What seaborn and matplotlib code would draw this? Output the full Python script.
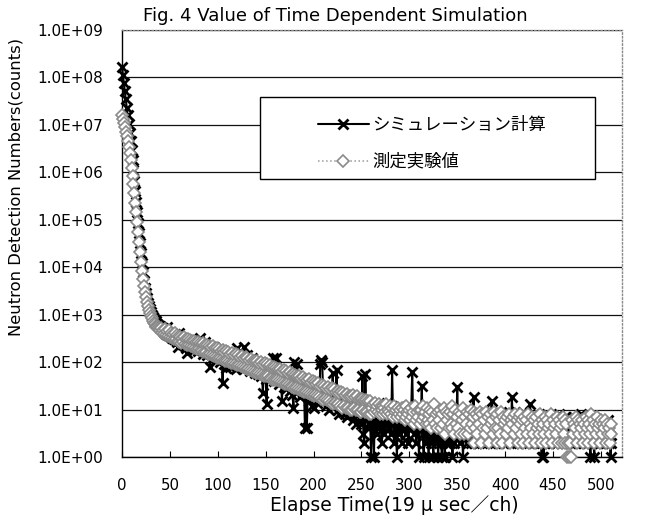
import numpy as np
import pandas as pd
import matplotlib
matplotlib.use("Agg")
import matplotlib.pyplot as plt
import seaborn as sns
from matplotlib.ticker import FuncFormatter
from matplotlib.patches import Rectangle

# Neutron counts per time channel (19 us/ch), channels 0..511
simulation = [
    1.66e8, 1.12e8, 7.6e7, 5.1e7, 3.5e7, 2.3e7, 1.6e7, 1.05e7, 6.9e6, 4.6e6,
    2.9e6, 1.8e6, 1.1e6, 6.6e5, 4.0e5, 2.4e5, 1.45e5, 8.7e4, 5.2e4, 3.2e4,
    1.95e4, 1.2e4, 7.8e3, 5.2e3, 3.7e3, 2.8e3, 2.2e3, 1.8e3, 1.5e3, 1.3e3,
    1120, 1000, 905, 830, 770, 720, 680, 650, 620, 590,
    565,
    545, 500, 530, 430, 470, 400, 540, 380, 410, 355,
    380, 320, 350, 300, 390, 290, 260, 205, 330, 410,
    280, 300, 240, 270, 230, 290, 200, 155, 240, 220,
    250, 190, 230, 260, 180, 210, 240, 200, 170, 280,
    316, 200, 180, 230, 150, 190, 260, 170, 140, 200,
    160, 78, 150, 180, 120, 210, 140, 110, 170, 130,
    150, 100, 125, 170, 36, 120, 90, 140, 75, 110,
    130, 95, 80, 120, 100, 140, 85, 110, 70, 195,
    105, 90, 150, 80, 115, 70, 205, 95, 85, 138,
    90, 75, 110, 65, 95, 120, 70, 85, 60, 100,
    80, 55, 95, 70, 50, 85, 22, 65, 75, 45,
    13, 70, 55, 80, 45, 60, 50, 120, 40, 55,
    120, 45, 60, 35, 50, 40, 15, 55, 30, 45,
    50, 28, 40, 60, 25, 35, 45, 20, 11, 100,
    30, 40, 93, 25, 35, 18, 30, 40, 22, 28,
    4, 20, 4, 30, 15, 25, 35, 12, 20, 11,
    25, 18, 30, 14, 22, 16, 93, 110, 100, 20,
    15, 25, 12, 18, 28, 10, 20, 14, 22, 58,
    16, 12, 20, 68, 10, 18, 8, 15, 12, 20,
    9, 14, 8, 18, 7, 12, 16, 8, 11, 14,
    6, 10, 14, 5, 12, 8, 16, 7, 10, 5,
    52, 3, 2, 56, 9, 6, 4, 10, 7, 1,
    5, 8, 1, 12, 6, 3, 9, 4, 11, 7,
    2, 6, 10, 3, 8, 5, 14, 4, 7, 9,
    3, 68, 6, 2, 9, 4, 1, 7, 3, 12,
    5, 2, 8, 4, 10, 3, 6, 9, 2, 7,
    4, 11, 62, 5, 3, 8, 2, 6, 9, 1,
    4, 7, 32, 3, 1, 6, 2, 9, 5, 1,
    3, 8, 2, 5, 1, 7, 4, 2, 6, 1,
    3, 9, 2, 1, 5, 4, 1, 7, 2, 3,
    6, 2, 8, 3, 1, 5, 2, 9, 4, 30,
    3, 6, 2, 8, 4, 1, 5, 3, 7, 2,
    5, 3, 9, 2, 6, 4, 18, 2, 7, 3,
    5, 8, 2, 4, 6, 3, 9, 2, 5, 4,
    7, 3, 5, 2, 8, 15, 4, 6, 2, 9,
    3, 5, 7, 2, 4, 8, 3, 6, 2, 5,
    4, 7, 3, 9, 5, 2, 18, 6, 3, 4,
    8, 2, 5, 3, 7, 4, 2, 6, 9, 3,
    5, 2, 7, 4, 3, 13, 6, 2, 5, 8,
    3, 6, 2, 4, 7, 3, 5, 1, 2, 1,
    2, 6, 3, 8, 4, 2, 5, 3, 7, 2,
    4, 6, 3, 2, 5, 8, 3, 4, 2, 6,
    3, 5, 7, 2, 4, 3, 6, 2, 5, 3,
    4, 7, 2, 5, 3, 6, 2, 4, 8, 3,
    5, 2, 6, 3, 4, 2, 7, 3, 1, 5,
    2, 4, 1, 6, 3, 2, 5, 3, 2, 4,
    3, 2, 5, 4, 2, 3, 6, 2, 4, 1, 2,
]

measured = [
    1.6e7, 1.3e7, 1.1e7, 8.9e6, 7.2e6, 5.8e6, 4.5e6, 3.4e6, 2.5e6, 1.8e6,
    1.26e6, 8.5e5, 5.6e5, 3.6e5, 2.3e5, 1.45e5, 8.9e4, 5.5e4, 3.4e4, 2.1e4,
    1.32e4, 8.5e3, 5.75e3, 4.07e3, 3.02e3, 2.34e3, 1.86e3, 1.51e3, 1.26e3, 1.07e3,
    933, 832, 741, 676, 631, 589, 562, 537, 513, 501,
    479,
    520, 410, 480, 395, 505, 380, 450, 355, 470, 340,
    420, 330, 395, 300, 410, 310, 365, 280, 350, 265,
    340, 255, 320, 270, 335, 240, 300, 225, 310, 230,
    290, 215, 275, 205, 285, 200, 260, 190, 270, 185,
    255, 180, 245, 170, 250, 165, 230, 160, 235, 150,
    220, 148, 210, 140, 215, 135, 195, 130, 200, 125,
    185, 125, 175, 118, 180, 112, 165, 108, 170, 104,
    160, 102, 150, 98, 155, 95, 142, 90, 145, 88,
    138, 86, 130, 82, 134, 78, 122, 76, 126, 72,
    120, 72, 112, 68, 116, 65, 106, 62, 108, 60,
    104, 60, 97, 57, 100, 54, 92, 52, 94, 50,
    90, 50, 84, 47, 86, 45, 78, 43, 80, 41,
    76, 42, 71, 40, 73, 38, 66, 36, 68, 34,
    64, 35, 60, 33, 62, 31, 56, 30, 57, 28,
    54, 29, 50, 27, 52, 26, 47, 25, 48, 23,
    45, 24, 42, 22, 44, 21, 39, 20, 40, 19,
    38, 20, 35, 19, 36, 18, 32, 17, 33, 16,
    32, 17, 29, 16, 30, 15, 27, 14, 28, 13,
    27, 14, 24, 13, 25, 13, 22, 12, 23, 11,
    22, 12, 20, 11, 21, 11, 19, 10, 19, 10,
    20, 11, 18, 10, 19, 10, 17, 9, 17, 9,
    17, 10, 16, 9, 16, 9, 15, 8, 15, 8,
    11, 13, 9, 14, 10, 12, 9, 13, 8, 12,
    10, 12, 8, 11, 9, 13, 8, 10, 9, 12,
    8, 11, 7, 12, 9, 10, 7, 11, 8, 10,
    7, 11, 8, 10, 6, 12, 7, 9, 8, 10,
    6, 11, 7, 9, 5, 12, 6, 9, 7, 10,
    5, 10, 6, 12, 7, 9, 5, 11, 6, 8,
    5, 10, 4, 9, 6, 13, 5, 8, 4, 9,
    6, 10, 4, 8, 5, 11, 3, 9, 6, 8,
    4, 9, 5, 12, 4, 8, 3, 10, 5, 7,
    4, 9, 3, 8, 6, 11, 3, 7, 5, 9,
    3, 8, 4, 10, 5, 7, 2, 9, 4, 8,
    3, 7, 5, 9, 2, 8, 4, 6, 3, 9,
    4, 7, 2, 8, 5, 6, 3, 9, 4, 7,
    2, 8, 4, 6, 3, 9, 2, 7, 5, 6,
    3, 7, 4, 8, 2, 6, 5, 7, 3, 8,
    4, 6, 2, 7, 5, 8, 3, 6, 2, 7,
    4, 6, 3, 8, 2, 5, 4, 7, 3, 6,
    2, 7, 4, 5, 3, 8, 2, 6, 4, 5,
    3, 7, 2, 6, 4, 5, 3, 8, 2, 6,
    4, 5, 3, 7, 2, 6, 4, 5, 2, 7,
    3, 6, 2, 5, 1, 2, 1, 2, 1, 6,
    3, 5, 4, 7, 2, 6, 3, 5, 4, 6,
    2, 5, 3, 7, 4, 6, 2, 5, 3, 8,
    4, 6, 2, 5, 3, 7, 4, 5, 2, 6,
    3, 5, 4, 6, 2, 5, 3, 4, 2, 5, 3,
]

sim_label = "シミュレーション計算"
meas_label = "測定実験値"
title = "Fig. 4 Value of Time Dependent Simulation"
x_title = "Elapse Time(19 \u03bc sec\uff0fch)"
y_title = "Neutron Detection Numbers(counts)"
x_ticks = [0, 50, 100, 150, 200, 250, 300, 350, 400, 450, 500]
y_ticks = [1e0, 1e1, 1e2, 1e3, 1e4, 1e5, 1e6, 1e7, 1e8, 1e9]

sns.set_theme(style="white")
plt.rcParams["font.family"] = ["DejaVu Sans", "Noto Sans CJK JP"]
plt.rcParams["text.color"] = "black"

sim_df = pd.DataFrame({"channel": np.arange(len(simulation)), "counts": simulation})
meas_df = pd.DataFrame({"channel": np.arange(len(measured)), "counts": measured})

fig = plt.figure(figsize=(6.48, 5.26), dpi=100)
ax = fig.add_axes([122 / 648, 69 / 526, 500 / 648, 427 / 526])
ax.set_yscale("log")

sns.lineplot(data=sim_df, x="channel", y="counts", ax=ax, color="black",
             lw=1.5, marker="x", markersize=7.5, markeredgewidth=2.0,
             markeredgecolor="black", label=sim_label, zorder=2, clip_on=False)
sns.lineplot(data=meas_df, x="channel", y="counts", ax=ax, color="#9a9a9a",
             lw=1.1, linestyle=":", marker="D", markersize=5.8,
             markerfacecolor="white", markeredgecolor="#8a8a8a",
             markeredgewidth=1.2, label=meas_label, zorder=3, clip_on=False)

ax.set_xlim(0, 522)
ax.set_ylim(1, 1e9)
ax.set_xticks(x_ticks)
ax.set_yticks(y_ticks)
ax.yaxis.set_major_formatter(FuncFormatter(lambda v, p: f"{v:.1E}"))
ax.minorticks_off()
ax.tick_params(axis="x", direction="in", length=4, width=0.8, color="black",
               pad=15, labelsize=10.8, labelcolor="black", bottom=True)
ax.tick_params(axis="y", length=0, pad=13.5, labelsize=11, labelcolor="black")
ax.set_xlabel("")
ax.set_ylabel("")

ax.set_axisbelow(True)
ax.yaxis.grid(True, color="#111111", lw=0.9)
ax.xaxis.grid(False)

for side in ("left", "bottom"):
    ax.spines[side].set_color("black")
    ax.spines[side].set_linewidth(1.0)
for side in ("top", "right"):
    ax.spines[side].set_color("#8a8a8a")
    ax.spines[side].set_linestyle(":")
    ax.spines[side].set_linewidth(1.0)

# legend: white framed box, entries placed inside it
handles, labels = ax.get_legend_handles_labels()
if ax.get_legend() is not None:
    ax.get_legend().remove()
ax.add_patch(Rectangle((0.276, 0.651), 0.67, 0.192, transform=ax.transAxes,
                       facecolor="white", edgecolor="black", lw=1.0, zorder=4))
leg = ax.legend(handles, labels, loc="upper left", bbox_to_anchor=(0.375, 0.818),
                frameon=False, borderpad=0, handlelength=2.9, handletextpad=0.2,
                labelspacing=1.05, numpoints=1,
                prop={"family": ["Noto Sans CJK JP"], "size": 12.5})
leg.set_zorder(5)

fig.text(143 / 648, 1 - 16 / 526, title, ha="left", va="center", fontsize=13)
fig.text(16 / 648, 1 - 187 / 526, y_title, rotation=90, ha="center",
         va="center", fontsize=11.8)
fig.text(394 / 648, 1 - 505 / 526, x_title, ha="center", va="center",
         fontsize=13.5)

fig.savefig("out.png", dpi=100, facecolor="white")
